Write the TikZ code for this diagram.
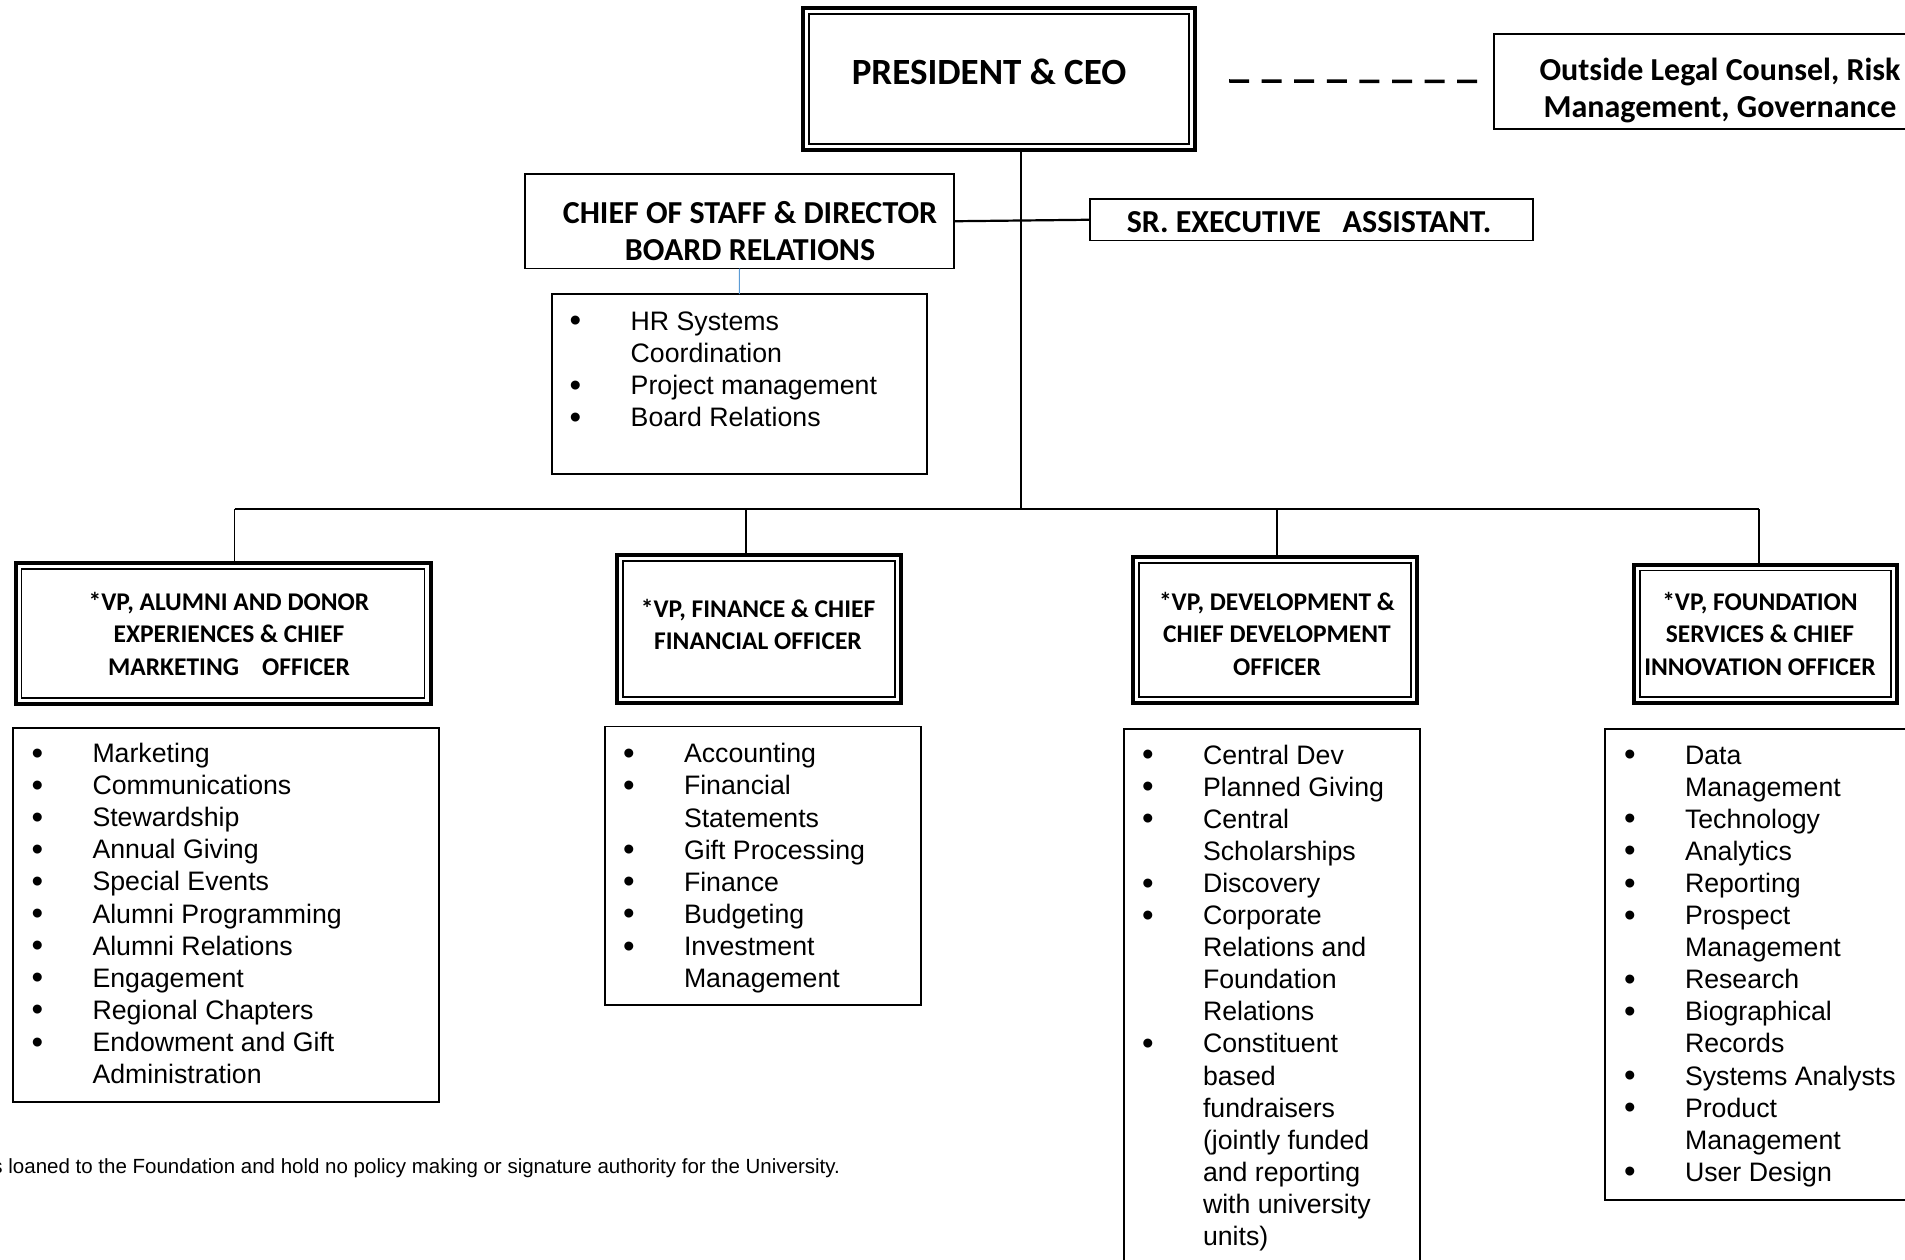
\documentclass[tikz,border=0pt]{standalone}
\usepackage{fontspec}
\setmainfont{Liberation Sans}
\newfontfamily\calfont{Carlito}
\definecolor{bluec}{HTML}{5B9BD5}
\newcommand\hfont[2]{\calfont\bfseries\fontsize{#1}{#2}\selectfont}
\newcommand\listfont{\fontsize{26.7}{32.1}\selectfont}
\newcommand\bigbul{\raisebox{-1.6pt}{\fontsize{33}{33}\selectfont\textbullet}}
\newcommand\bitem[1]{\makebox[61pt][l]{\bigbul}#1}
\newcommand\citem[1]{\hspace*{61pt}#1}
\newcommand\fst{\rule{0pt}{22pt}}
\begin{document}
\begin{tikzpicture}[x=1pt,y=-1pt,
  every node/.style={inner sep=0pt, outer sep=0pt},
  sbox/.style={draw, line width=1.8pt, rectangle},
  dbox/.style={draw, line width=4pt, rectangle},
  innerline/.style={draw, line width=1.6pt},
  conn/.style={line width=1.8pt},
  phead/.style={font=\hfont{37}{44}, align=center},
  mhead/.style={font=\hfont{32}{37.5}, align=center},
  vhead/.style={font=\hfont{25.5}{32.5}, align=center},
  listtext/.style={font=\listfont, align=left, anchor=north west},
  dashconn/.style={line width=3.5pt, dash pattern=on 20pt off 12.6pt},
  blueconn/.style={line width=1pt, draw=bluec},
  notetext/.style={font=\fontsize{20.5}{24}\selectfont, anchor=base west}
]
\useasboundingbox (0,0) rectangle (1905,1260);
\fill[white] (0,0) rectangle (1905,1260);
\clip (0,0) rectangle (1905,1260);

% top level
\node[dbox, minimum width=392pt, minimum height=142pt] (pres) at (999,79) {};
\node[phead] (presT) at (989,72) {PRESIDENT \& CEO};

\node[sbox, minimum width=460pt, minimum height=95pt] (out) at (1724,81.5) {};
\node[mhead] (outT) at (1720,90.5) {Outside Legal Counsel, Risk\\Management, Governance};

\node[sbox, minimum width=429pt, minimum height=94.5pt] (chief) at (739.5,221.25) {};
\node[mhead] (chiefT) at (750,231.3) {CHIEF OF STAFF \& DIRECTOR\\BOARD RELATIONS};

\node[sbox, minimum width=443pt, minimum height=41.5pt] (sr) at (1311.5,219.75) {};
\node[mhead] (srT) at (1309,222) {SR. EXECUTIVE\ \ \ ASSISTANT.};

\node[sbox, minimum width=375.4pt, minimum height=180pt] (hr) at (739.3,384) {};
\node[listtext] (hrL) at (569.7,308.2) {\fst\bitem{HR Systems}\\\citem{Coordination}\\\bitem{Project management}\\\bitem{Board Relations}};

% VP boxes
\node[dbox, minimum width=415pt, minimum height=141pt] (vpa) at (223,633.5) {};
\node[vhead] (vpaT) at (229,633.5) {*VP, ALUMNI AND DONOR\\EXPERIENCES \& CHIEF\\MARKETING\ \ \ \ OFFICER};
\node[dbox, minimum width=284pt, minimum height=148pt] (vpf) at (759,629) {};
\node[vhead] (vpfT) at (758,624.4) {*VP, FINANCE \& CHIEF\\FINANCIAL OFFICER};
\node[dbox, minimum width=284pt, minimum height=146pt] (vpd) at (1275,630) {};
\node[vhead] (vpdT) at (1277,633.7) {*VP, DEVELOPMENT \&\\CHIEF DEVELOPMENT\\OFFICER};
\node[dbox, minimum width=263pt, minimum height=138.5pt] (vpi) at (1765.5,633.75) {};
\node[vhead] (vpiT) at (1760,633.7) {*VP, FOUNDATION\\SERVICES \& CHIEF\\INNOVATION OFFICER};

\foreach \n in {pres,vpa,vpf,vpd,vpi}
  \draw[innerline] ([shift={(6,6)}]\n.north west) rectangle ([shift={(-6,-6)}]\n.south east);

% list boxes
\node[sbox, minimum width=426pt, minimum height=374pt] (la) at (226,915) {};
\node[listtext] (laL) at (31.5,740.5) {\fst\bitem{Marketing}\\\bitem{Communications}\\\bitem{Stewardship}\\\bitem{Annual Giving}\\\bitem{Special Events}\\\bitem{Alumni Programming}\\\bitem{Alumni Relations}\\\bitem{Engagement}\\\bitem{Regional Chapters}\\\bitem{Endowment and Gift}\\\citem{Administration}};

\node[sbox, minimum width=316pt, minimum height=278.5pt] (lf) at (763,865.75) {};
\node[listtext] (lfL) at (623,740.8) {\fst\bitem{Accounting}\\\bitem{Financial}\\\citem{Statements}\\\bitem{Gift Processing}\\\bitem{Finance}\\\bitem{Budgeting}\\\bitem{Investment}\\\citem{Management}};

\node[sbox, minimum width=296pt, minimum height=600pt] (ld) at (1272,1029) {};
\node[listtext] (ldL) at (1142,742) {\fst\bitem{Central Dev}\\\bitem{Planned Giving}\\\bitem{Central}\\\citem{Scholarships}\\\bitem{Discovery}\\\bitem{Corporate}\\\citem{Relations and}\\\citem{Foundation}\\\citem{Relations}\\\bitem{Constituent}\\\citem{based}\\\citem{fundraisers}\\\citem{(jointly funded}\\\citem{and reporting}\\\citem{with university}\\\citem{units)}};

\node[sbox, minimum width=355pt, minimum height=471pt] (li) at (1782.5,964.5) {};
\node[listtext] (liL) at (1624,742) {\fst\bitem{Data}\\\citem{Management}\\\bitem{Technology}\\\bitem{Analytics}\\\bitem{Reporting}\\\bitem{Prospect}\\\citem{Management}\\\bitem{Research}\\\bitem{Biographical}\\\citem{Records}\\\bitem{Systems Analysts}\\\bitem{Product}\\\citem{Management}\\\bitem{User Design}};

% connectors
\coordinate (trunk) at (1020.6,509);
\coordinate (ba) at (234.5,509);
\coordinate (bf) at (746,509);
\coordinate (bd) at (1277,509);
\coordinate (bi) at (1759,509);
\draw[conn] (pres.south -| trunk) -- (trunk);
\draw[conn] (ba) -- (bi);
\draw[conn] (ba) -- (ba |- vpa.north);
\draw[conn] (bf) -- (bf |- vpf.north);
\draw[conn] (bd) -- (bd |- vpd.north);
\draw[conn] (bi) -- (bi |- vpi.north);
\draw[line width=2.2pt] (chief.east) -- (sr.west);
\draw[blueconn] (chief.south) -- (hr.north);
\draw[dashconn] ([shift={(34,2)}]pres.east) -- ([shift={(-14,0)}]out.west);

% footnote
\node[notetext] (note) at (-7.5,1173) {s loaned to the Foundation and hold no policy making or signature authority for the University.};
\end{tikzpicture}
\end{document}
